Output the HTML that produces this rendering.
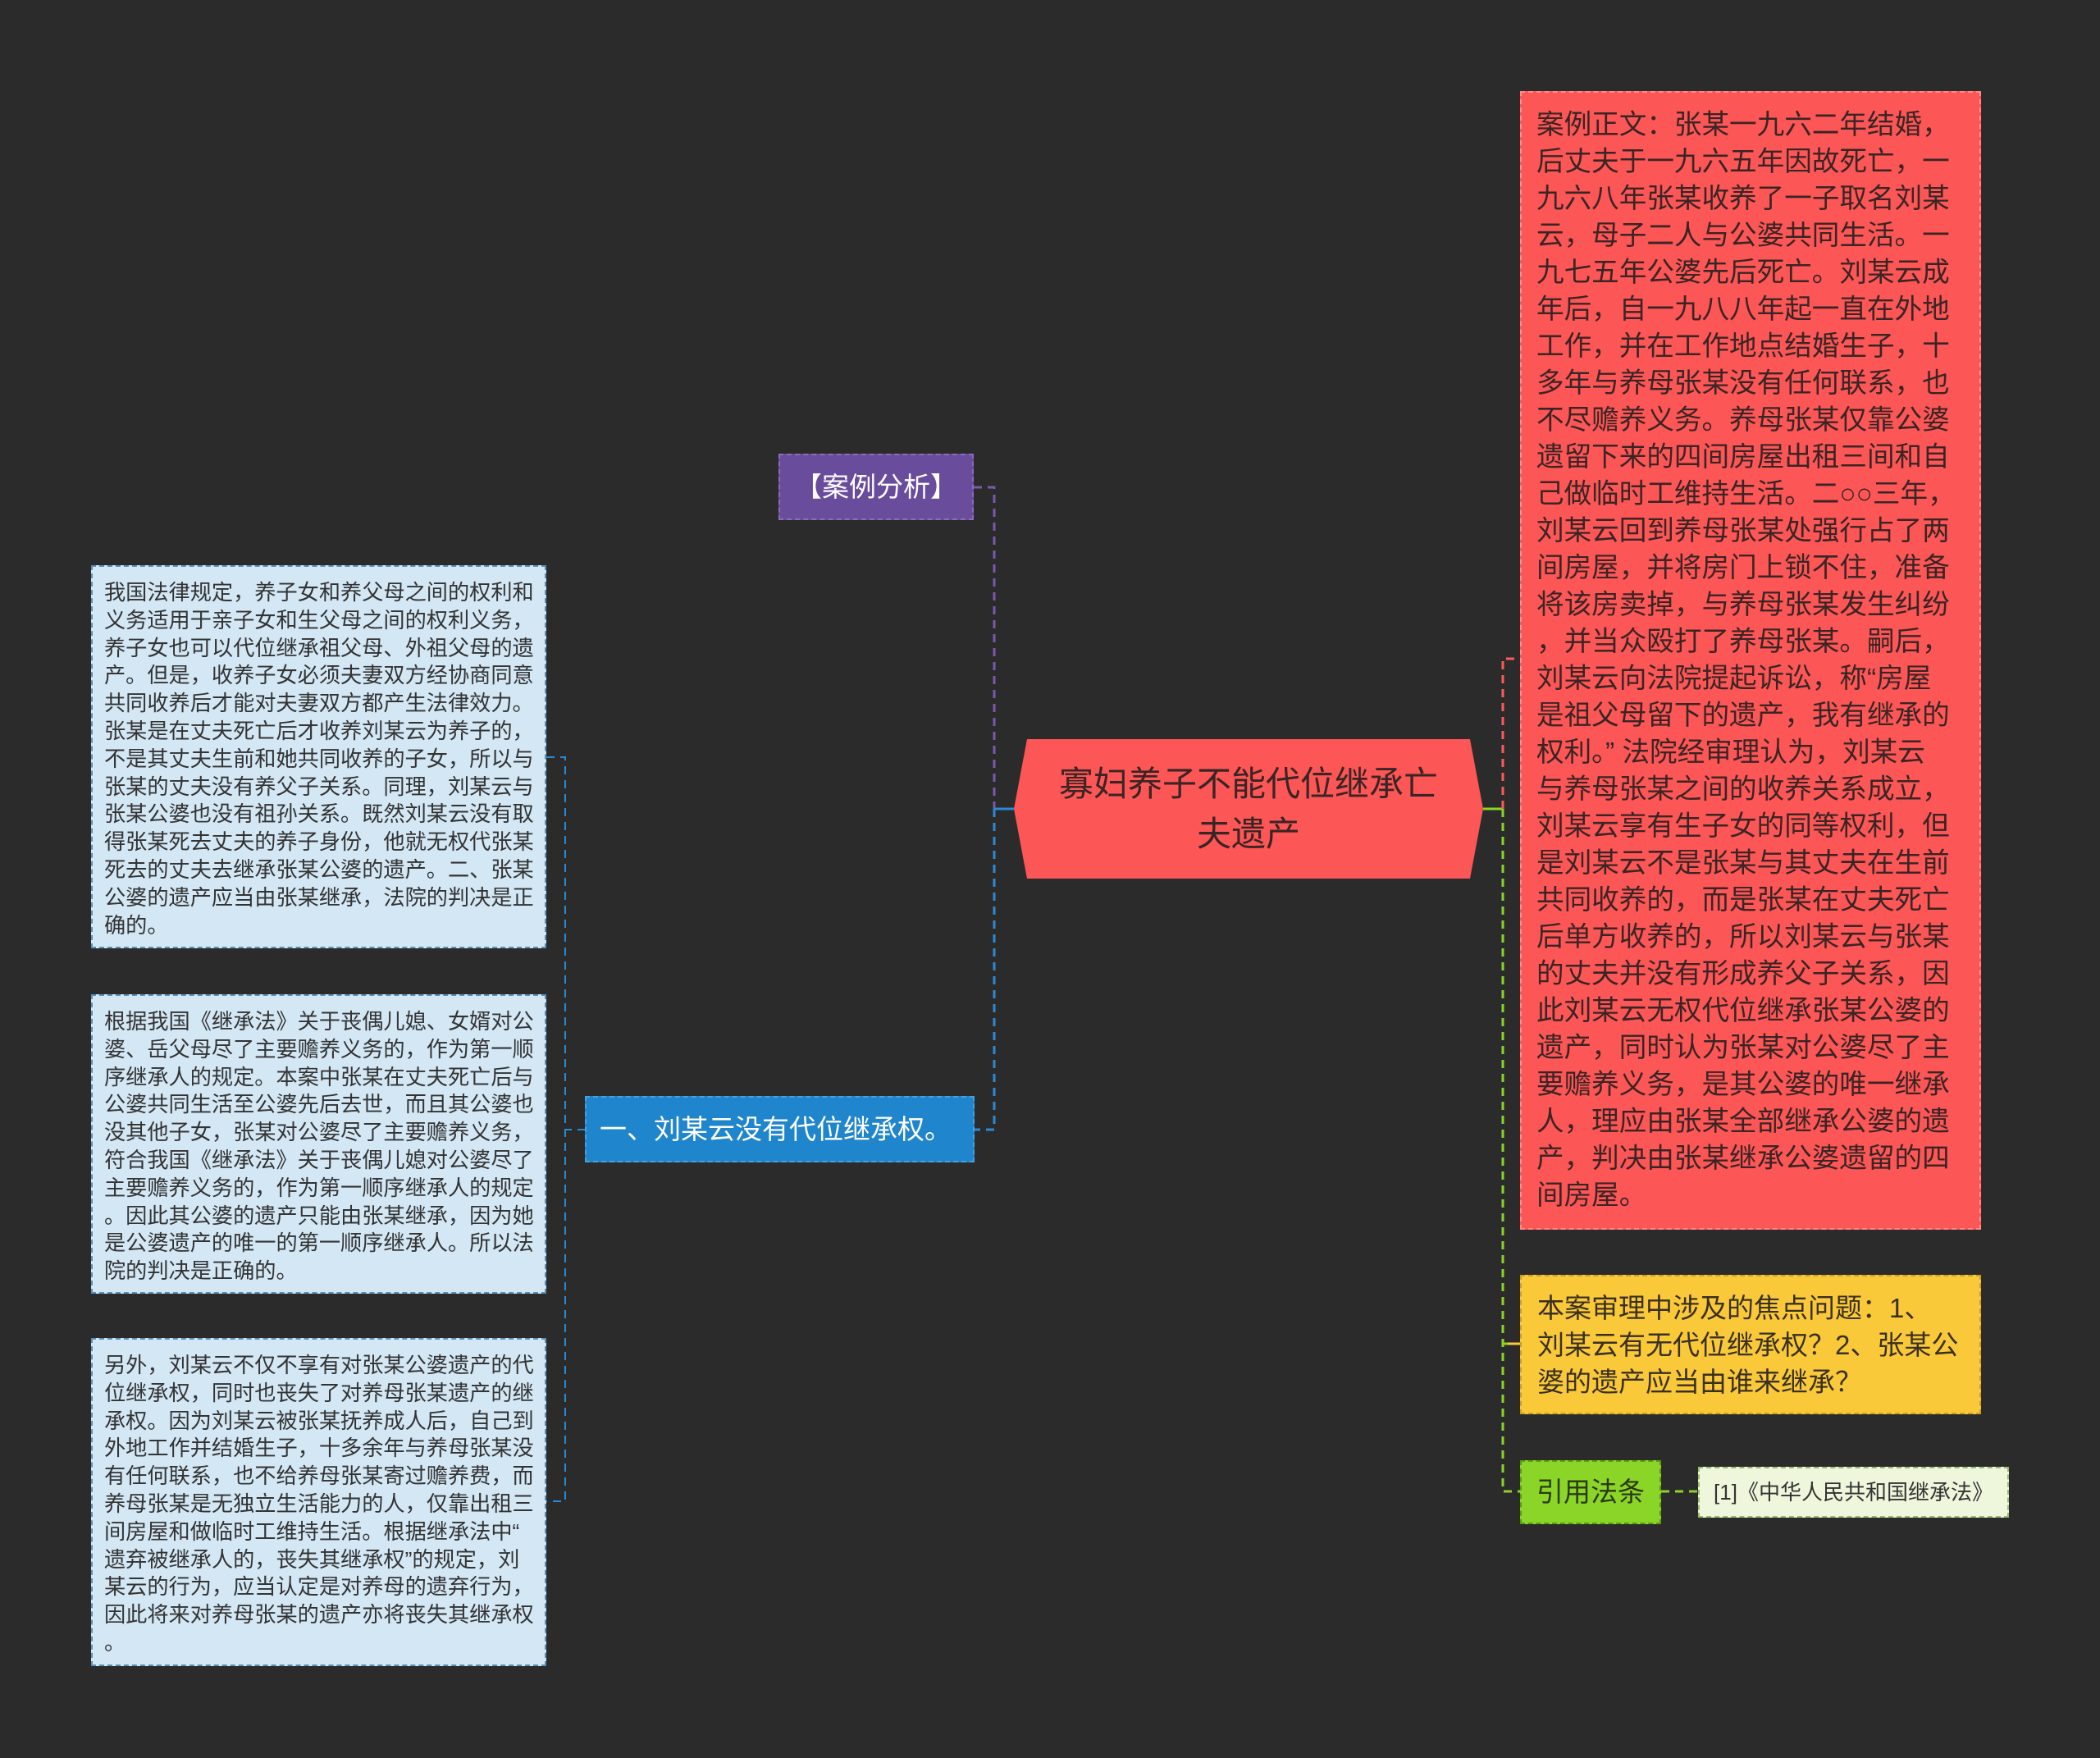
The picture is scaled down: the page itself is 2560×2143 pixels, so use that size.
<!DOCTYPE html>
<html><head><meta charset="utf-8"><style>
html,body{margin:0;padding:0}
body{width:2560px;height:2143px;background:#2b2b2b;position:relative;overflow:hidden;font-family:"Liberation Sans","Noto Sans CJK SC",sans-serif}
.b{position:absolute;box-sizing:border-box;white-space:nowrap}
.lb{background:#d3e7f5;border:2px dashed #5a8fb8;color:#333;font-size:26.2px;line-height:33.8px;padding:15px 0 0 14px}
svg{position:absolute;left:0;top:0}
</style></head><body>
<svg width="2560" height="2143">
<g fill="none" stroke-width="3">
<path d="M1187 594 H1212 V986" stroke="#7a5aa8" stroke-dasharray="10 7"/>
<path d="M1212 986 V1377 H1187" stroke="#2a8ad4" stroke-dasharray="10 7"/>
<path d="M1212 986 H1236" stroke="#2a8ad4"/>
<path d="M714 1377 H689 M666 923 H689 V1830 H666" stroke="#2a8ad4" stroke-dasharray="10 7" stroke-width="2"/>
<path d="M1808 986 H1832" stroke="#8bd428"/>
<path d="M1832 986 V1818 H1853 M1832 1638 H1853" stroke="#8bd428" stroke-dasharray="10 7"/>
<path d="M1832 986 V803 H1853" stroke="#ff5a5a" stroke-dasharray="10 7"/>
<path d="M1838 1638 H1853" stroke="#f9c93a"/>
<path d="M2025 1818 H2070" stroke="#8bd428" stroke-dasharray="10 7"/>
</g>
<polygon points="1236,986 1252,901 1792,901 1808,986 1792,1071 1252,1071" fill="#fc5656"/>
<text x="1522" y="970" text-anchor="middle" font-size="42" fill="#3a2424" font-family="Liberation Sans,Noto Sans CJK SC,sans-serif">寡妇养子不能代位继承亡</text>
<text x="1522" y="1031" text-anchor="middle" font-size="42" fill="#3a2424" font-family="Liberation Sans,Noto Sans CJK SC,sans-serif">夫遗产</text>
</svg>

<div class="b" style="left:949px;top:553px;width:238px;height:81px;background:#6a4c9c;border:2px dashed #8a6cbc;color:#fff;font-size:33px;line-height:77px;text-align:center">【案例分析】</div>
<div class="b" style="left:713px;top:1336px;width:475px;height:81px;background:#1f85cc;border:2px dashed #4aa0dc;color:#fff;font-size:33px;line-height:77px;padding-left:16px">一、刘某云没有代位继承权。</div>

<div class="b lb" style="left:111px;top:689px;width:555px;height:467px">我国法律规定，养子女和养父母之间的权利和<br>义务适用于亲子女和生父母之间的权利义务，<br>养子女也可以代位继承祖父母、外祖父母的遗<br>产。但是，收养子女必须夫妻双方经协商同意<br>共同收养后才能对夫妻双方都产生法律效力。<br>张某是在丈夫死亡后才收养刘某云为养子的，<br>不是其丈夫生前和她共同收养的子女，所以与<br>张某的丈夫没有养父子关系。同理，刘某云与<br>张某公婆也没有祖孙关系。既然刘某云没有取<br>得张某死去丈夫的养子身份，他就无权代张某<br>死去的丈夫去继承张某公婆的遗产。二、张某<br>公婆的遗产应当由张某继承，法院的判决是正<br>确的。</div>
<div class="b lb" style="left:111px;top:1212px;width:555px;height:365px">根据我国《继承法》关于丧偶儿媳、女婿对公<br>婆、岳父母尽了主要赡养义务的，作为第一顺<br>序继承人的规定。本案中张某在丈夫死亡后与<br>公婆共同生活至公婆先后去世，而且其公婆也<br>没其他子女，张某对公婆尽了主要赡养义务，<br>符合我国《继承法》关于丧偶儿媳对公婆尽了<br>主要赡养义务的，作为第一顺序继承人的规定<br>。因此其公婆的遗产只能由张某继承，因为她<br>是公婆遗产的唯一的第一顺序继承人。所以法<br>院的判决是正确的。</div>
<div class="b lb" style="left:111px;top:1631px;width:555px;height:400px">另外，刘某云不仅不享有对张某公婆遗产的代<br>位继承权，同时也丧失了对养母张某遗产的继<br>承权。因为刘某云被张某抚养成人后，自己到<br>外地工作并结婚生子，十多余年与养母张某没<br>有任何联系，也不给养母张某寄过赡养费，而<br>养母张某是无独立生活能力的人，仅靠出租三<br>间房屋和做临时工维持生活。根据继承法中“<br>遗弃被继承人的，丧失其继承权”的规定，刘<br>某云的行为，应当认定是对养母的遗弃行为，<br>因此将来对养母张某的遗产亦将丧失其继承权<br>。</div>

<div class="b" style="left:1853px;top:111px;width:562px;height:1388px;background:#fc5656;border:2px dashed #ff8a8a;color:#3a2424;font-size:33.6px;line-height:45px;padding:17px 0 0 18px">案例正文：张某一九六二年结婚，<br>后丈夫于一九六五年因故死亡，一<br>九六八年张某收养了一子取名刘某<br>云，母子二人与公婆共同生活。一<br>九七五年公婆先后死亡。刘某云成<br>年后，自一九八八年起一直在外地<br>工作，并在工作地点结婚生子，十<br>多年与养母张某没有任何联系，也<br>不尽赡养义务。养母张某仅靠公婆<br>遗留下来的四间房屋出租三间和自<br>己做临时工维持生活。二○○三年，<br>刘某云回到养母张某处强行占了两<br>间房屋，并将房门上锁不住，准备<br>将该房卖掉，与养母张某发生纠纷<br>，并当众殴打了养母张某。嗣后，<br>刘某云向法院提起诉讼，称“房屋<br>是祖父母留下的遗产，我有继承的<br>权利。” 法院经审理认为，刘某云<br>与养母张某之间的收养关系成立，<br>刘某云享有生子女的同等权利，但<br>是刘某云不是张某与其丈夫在生前<br>共同收养的，而是张某在丈夫死亡<br>后单方收养的，所以刘某云与张某<br>的丈夫并没有形成养父子关系，因<br>此刘某云无权代位继承张某公婆的<br>遗产，同时认为张某对公婆尽了主<br>要赡养义务，是其公婆的唯一继承<br>人，理应由张某全部继承公婆的遗<br>产，判决由张某继承公婆遗留的四<br>间房屋。</div>

<div class="b" style="left:1853px;top:1554px;width:562px;height:170px;background:#f9c93a;border:2px dashed #c9a020;color:#3a3020;font-size:33px;line-height:45px;padding:16px 0 0 19px">本案审理中涉及的焦点问题：1、<br>刘某云有无代位继承权？2、张某公<br>婆的遗产应当由谁来继承？</div>

<div class="b" style="left:1853px;top:1780px;width:172px;height:78px;background:#8bd428;border:2px dashed #5a9a10;color:#2a3a10;font-size:33px;line-height:74px;text-align:center">引用法条</div>
<div class="b" style="left:2070px;top:1788px;width:379px;height:62px;background:#eef7dc;border:2px dashed #9ab870;color:#333;font-size:26px;line-height:58px;text-align:center">[1]《中华人民共和国继承法》</div>
</body></html>
